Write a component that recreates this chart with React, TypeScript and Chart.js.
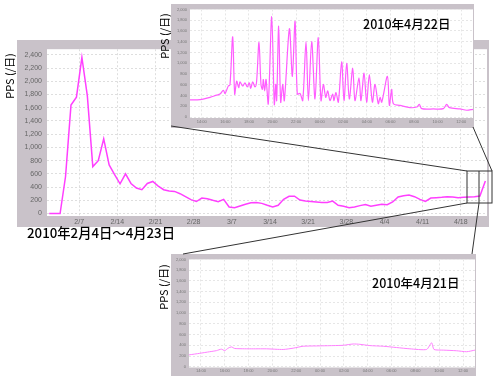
import React, { useEffect, useRef } from "react";
import { Chart, registerables } from "chart.js";
Chart.register(...registerables);

// ---------------- data ----------------
const mainTickLabels = ["2/7", "2/14", "2/21", "2/28", "3/7", "3/14", "3/21", "3/28", "4/4", "4/11", "4/18"];
const mainTickDays = [7, 14, 21, 28, 35, 42, 49, 56, 63, 70, 77];
const mainFirstDay = 1.5;
const mainValues = [
  0, 0, 0, 560, 1640, 1760, 2360, 1780, 710, 800,
  1130, 735, 590, 450, 600, 455, 385, 360, 455, 485,
  415, 360, 340, 335, 300, 255, 210, 182, 235, 225,
  200, 180, 215, 100, 88, 115, 140, 162, 168, 154,
  125, 100, 125, 215, 260, 262, 205, 190, 183, 175,
  168, 168, 188, 125, 110, 88, 100, 120, 135, 110,
  125, 140, 135, 175, 250, 270, 280, 255, 215, 183,
  235, 240, 245, 255, 250, 240, 245, 250, 255, 265,
  493,
];
const mainYTicks = [0, 200, 400, 600, 800, 1000, 1200, 1400, 1600, 1800, 2000, 2200, 2400];

const insetYTicks = [0, 200, 400, 600, 800, 1000, 1200, 1400, 1600, 1800, 2000];
const hourTicks = [1, 3, 5, 7, 9, 11, 13, 15, 17, 19, 21, 23];
const hourTickLabels = ["14:00", "16:00", "18:00", "20:00", "22:00", "00:00", "02:00", "04:00", "06:00", "08:00", "10:00", "12:00"];

// hours after 13:00 on the previous day
const apr22Hours = [
  0.0, 0.85, 1.7, 2.26, 2.54, 2.83, 2.97, 3.25, 3.39, 3.62,
  3.79, 3.96, 4.13, 4.24, 4.47, 4.66, 4.86, 5.03, 5.15, 5.32,
  5.51, 5.65, 5.85, 6.02, 6.14, 6.22, 6.33, 6.45, 6.64, 6.93,
  7.15, 7.27, 7.35, 7.52, 7.69, 7.86, 8.0, 8.43, 8.68, 8.91,
  9.1, 9.33, 9.56, 9.84, 10.04, 10.32, 10.6, 10.88, 11.11, 11.31,
  11.51, 11.68, 11.87, 12.1, 12.21, 12.38, 12.58, 12.86, 13.06, 13.29,
  13.51, 13.8, 13.99, 14.33, 14.5, 14.76, 14.98, 15.21, 15.47, 15.69,
  15.97, 16.12, 16.26, 16.74, 16.91, 17.1, 17.25, 17.81, 18.66, 19.23,
  19.45, 19.65, 20.64, 21.49, 21.77, 22.0, 22.9, 23.47, 24.0,
];
const apr22Values = [
  318, 324, 366, 408, 426, 498, 438, 576, 594, 1489,
  426, 666, 546, 654, 576, 636, 558, 636, 534, 654,
  558, 666, 1387, 606, 516, 697, 486, 697, 246, 1868,
  234, 606, 306, 1688, 276, 606, 306, 1640, 757, 1778,
  426, 438, 306, 1400, 306, 1400, 336, 1477, 306, 606,
  366, 486, 306, 426, 306, 456, 276, 1027, 306, 997,
  336, 907, 306, 727, 306, 817, 276, 787, 276, 606,
  246, 366, 276, 757, 216, 516, 246, 216, 174, 186,
  234, 156, 150, 156, 234, 174, 150, 126, 144,
];

const apr21Hours = [
  0.0, 0.9, 1.74, 2.3, 2.72, 3.0, 3.28, 3.56, 3.84, 5.1,
  6.5, 7.9, 8.74, 9.58, 10.7, 12.1, 12.94, 13.78, 14.34, 15.18,
  16.3, 17.42, 18.54, 19.94, 20.36, 20.56, 21.34, 22.46, 23.3, 24.0,
];
const apr21Values = [
  221, 250, 280, 300, 328, 300, 346, 370, 340, 334,
  334, 322, 346, 382, 388, 394, 400, 424, 418, 394,
  382, 358, 334, 322, 448, 322, 310, 298, 280, 310,
];

const mainTitle = "2010年2月4日〜4月23日";
const apr22Title = "2010年4月22日";
const apr21Title = "2010年4月21日";
const yAxisTitle = "PPS (/日)";

// ---------------- styles ----------------
const PANEL = "rgb(201,194,201)";
const TICK_FONT = "'Liberation Sans', Arial, sans-serif";
const CJK_FONT = "'Noto Sans CJK JP', 'Noto Sans', sans-serif";

const panelPlugin = {
  id: "panelBg",
  beforeDraw(chart: any) {
    const { ctx, chartArea: a, width, height } = chart;
    ctx.save();
    ctx.fillStyle = PANEL;
    ctx.fillRect(0, 0, width, height);
    ctx.fillStyle = "#ffffff";
    ctx.fillRect(a.left, a.top, a.right - a.left, a.bottom - a.top);
    ctx.restore();
  },
};

const fmt = (v: number) => Number(v).toLocaleString("en-US");

function makeConfig(o: any) {
  return {
    type: "line",
    data: {
      datasets: [
        {
          data: o.points,
          borderColor: o.color,
          borderWidth: o.lineWidth,
          pointRadius: 0,
          tension: o.tension,
          fill: false,
        },
      ],
    },
    options: {
      animation: false,
      responsive: false,
      maintainAspectRatio: false,
      events: [],
      layout: { padding: { top: o.padTop, right: o.padRight, left: 0, bottom: 0 } },
      plugins: { legend: { display: false }, tooltip: { enabled: false } },
      scales: {
        x: {
          type: "linear",
          min: o.xMin,
          max: o.xMax,
          afterBuildTicks: (s: any) => {
            s.ticks = o.xTicks.map((v: number) => ({ value: v }));
          },
          ticks: {
            autoSkip: false,
            maxRotation: 0,
            padding: o.xPad,
            color: o.tickColor,
            font: { family: TICK_FONT, size: o.fontSize },
            callback: (v: number) => {
              const i = o.xTicks.indexOf(v);
              return i >= 0 ? o.xLabels[i] : "";
            },
          },
          grid: { color: o.gridColor, drawTicks: false, lineWidth: 1 },
          border: { display: false, dash: [2, 2] },
          afterFit: (s: any) => {
            s.height = o.xHeight;
          },
        },
        y: {
          type: "linear",
          min: o.yMin,
          max: o.yMax,
          afterBuildTicks: (s: any) => {
            s.ticks = o.yTicks.map((v: number) => ({ value: v }));
          },
          ticks: {
            padding: o.yPad,
            color: o.tickColor,
            font: { family: TICK_FONT, size: o.fontSize },
            callback: (v: number) => fmt(v),
          },
          grid: { color: o.gridColor, drawTicks: false, lineWidth: 1 },
          border: { display: false, dash: [2, 2] },
          afterFit: (s: any) => {
            s.width = o.yWidth;
          },
        },
      },
    },
    plugins: [panelPlugin],
  };
}

function ChartBox(props: { left: number; top: number; width: number; height: number; z: number; cfg: any }) {
  const ref = useRef<HTMLCanvasElement | null>(null);
  useEffect(() => {
    if (!ref.current) return;
    const chart = new Chart(ref.current, props.cfg);
    return () => chart.destroy();
  }, []);
  return (
    <canvas
      ref={ref}
      width={props.width}
      height={props.height}
      style={{
        position: "absolute",
        left: props.left,
        top: props.top,
        width: props.width,
        height: props.height,
        zIndex: props.z,
      }}
    />
  );
}

function RotLabel(props: { cx: number; cy: number; text: string; size: number }) {
  const w = 60;
  const h = 14;
  return (
    <div
      style={{
        position: "absolute",
        left: props.cx - w / 2,
        top: props.cy - h / 2,
        width: w,
        height: h,
        lineHeight: h + "px",
        textAlign: "center",
        fontFamily: CJK_FONT,
        fontSize: props.size,
        color: "#000",
        whiteSpace: "nowrap",
        transform: "rotate(-90deg)",
        zIndex: 10,
      }}
    >
      {props.text}
    </div>
  );
}

function Title(props: { left: number; cy: number; text: string; size: number }) {
  return (
    <div
      style={{
        position: "absolute",
        left: props.left,
        top: props.cy - 10,
        height: 20,
        lineHeight: "20px",
        fontFamily: CJK_FONT,
        fontSize: props.size,
        fontWeight: 500,
        color: "#000",
        whiteSpace: "nowrap",
        zIndex: 10,
      }}
    >
      {props.text}
    </div>
  );
}

const mainCfg = makeConfig({
  points: mainValues.map((v, i) => ({ x: mainFirstDay + i, y: v })),
  color: "#ff3fff",
  lineWidth: 1.5,
  tension: 0,
  padTop: 2,
  padRight: 2,
  xMin: 1.1,
  xMax: 81.8,
  xTicks: mainTickDays,
  xLabels: mainTickLabels,
  xPad: 2,
  xHeight: 11,
  yMin: -37,
  yMax: 2485,
  yTicks: mainYTicks,
  yPad: 5,
  yWidth: 30,
  fontSize: 7,
  tickColor: "#666",
  gridColor: "#dedede",
});

const apr22Cfg = makeConfig({
  points: apr22Hours.map((h, i) => ({ x: h, y: apr22Values[i] })),
  color: "#ff5cff",
  lineWidth: 1.2,
  tension: 0.3,
  padTop: 2,
  padRight: 1,
  xMin: 0,
  xMax: 24,
  xTicks: hourTicks,
  xLabels: hourTickLabels,
  xPad: 1,
  xHeight: 10,
  yMin: -18,
  yMax: 2000,
  yTicks: insetYTicks,
  yPad: 3,
  yWidth: 19,
  fontSize: 4,
  tickColor: "#777",
  gridColor: "#e6e6e6",
});

const apr21Cfg = makeConfig({
  points: apr21Hours.map((h, i) => ({ x: h, y: apr21Values[i] })),
  color: "#ff80ff",
  lineWidth: 1,
  tension: 0.2,
  padTop: 2,
  padRight: 1,
  xMin: 0,
  xMax: 24,
  xTicks: hourTicks,
  xLabels: hourTickLabels,
  xPad: 1,
  xHeight: 8.5,
  yMin: -14,
  yMax: 2000,
  yTicks: insetYTicks,
  yPad: 3,
  yWidth: 18,
  fontSize: 4,
  tickColor: "#777",
  gridColor: "#e6e6e6",
});

export default function App() {
  return (
    <div
      style={{
        position: "absolute",
        left: 0,
        top: 0,
        width: 499,
        height: 379,
        background: "#fff",
        overflow: "hidden",
      }}
    >
      <ChartBox left={17} top={40} width={472} height={187} z={1} cfg={mainCfg} />
      <ChartBox left={171} top={254} width={305} height={122} z={2} cfg={apr21Cfg} />
      <ChartBox left={171} top={4} width={303} height={124} z={3} cfg={apr22Cfg} />
      <svg
        width={499}
        height={379}
        style={{ position: "absolute", left: 0, top: 0, zIndex: 5 }}
      >
        <g stroke="#333" strokeWidth={1} fill="none">
          <line x1={171} y1={126} x2={467} y2={171} />
          <line x1={473} y1={127} x2={492} y2={171} />
          <line x1={183} y1={254} x2={467} y2={203} />
          <line x1={472} y1={254} x2={479} y2={203} />
          <rect x={467} y={171} width={25} height={32} />
          <line x1={479} y1={171} x2={479} y2={203} />
        </g>
      </svg>
      <RotLabel cx={9} cy={76} text={yAxisTitle} size={11} />
      <RotLabel cx={164} cy={36} text={yAxisTitle} size={11} />
      <RotLabel cx={163} cy={287} text={yAxisTitle} size={11} />
      <Title left={27} cy={233} text={mainTitle} size={13.3} />
      <Title left={363} cy={24} text={apr22Title} size={12.5} />
      <Title left={372} cy={283} text={apr21Title} size={12.5} />
    </div>
  );
}
